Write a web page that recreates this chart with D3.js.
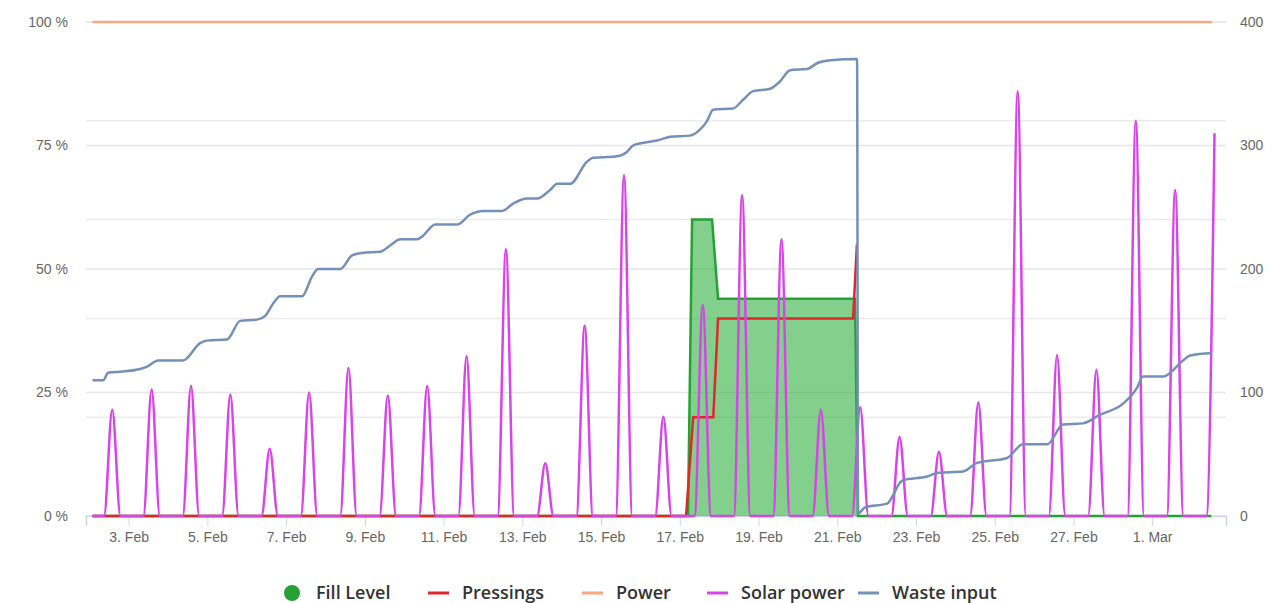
<!DOCTYPE html>
<html>
<head>
<meta charset="utf-8">
<script src="https://cdn.jsdelivr.net/npm/d3@7/dist/d3.min.js"></script>
<style>
    body { margin: 0; background: #fff; }
    svg { display: block; font-family: "Open Sans", "DejaVu Sans", sans-serif; }
</style>
</head>
<body>
<div id="chart"></div>
<script>
var parseTime = d3.timeParse("%Y-%m-%d %H:%M");
var parseDay = d3.timeParse("%Y-%m-%d");

// time window shown on the x axis
var xStart = "2019-02-01 22:00",
    xEnd = "2019-03-02 21:00";

var xTicks = ["2019-02-03", "2019-02-05", "2019-02-07", "2019-02-09", "2019-02-11",
    "2019-02-13", "2019-02-15", "2019-02-17", "2019-02-19", "2019-02-21",
    "2019-02-23", "2019-02-25", "2019-02-27", "2019-03-01"];
var leftTicks = [0, 25, 50, 75, 100];     // percent axis
var rightTicks = [0, 100, 200, 300, 400]; // waste input axis
var hiddenTicks = [0, 20, 40, 60, 80, 100]; // second percent axis (grid only)

// Fill Level (%)
var fillLevel = [
    ["2019-02-02 02:00", 0], ["2019-02-17 05:00", 0], ["2019-02-17 07:30", 60],
    ["2019-02-17 19:40", 60], ["2019-02-17 23:20", 44], ["2019-02-21 10:50", 44],
    ["2019-02-21 12:40", 0], ["2019-03-02 12:00", 0]
];

// Pressings (%)
var pressings = [
    ["2019-02-02 02:00", 0], ["2019-02-17 03:50", 0], ["2019-02-17 08:10", 20],
    ["2019-02-17 20:25", 20], ["2019-02-17 23:20", 40], ["2019-02-21 09:40", 40],
    ["2019-02-21 12:00", 55]
];

// Power (%)
var power = [["2019-02-02 02:00", 100], ["2019-03-02 12:30", 100]];

// Solar power: one daily peak (%), Feb 2 .. Mar 2
var solarPeaks = [21.5, 25.6, 26.3, 24.6, 13.6, 25, 30, 24.4, 26.3, 32.4,
    54, 10.7, 38.5, 69, 20.1, 42.7, 65, 56, 21.5, 22,
    16, 13, 23, 86, 32.6, 29.6, 80, 66, 77.5];
var sunrise = "09:00", solarNoon = "14:00", sunset = "19:00";

// Waste input (right axis)
var wasteInput = [
    ["2019-02-02 02:00", 110], ["2019-02-02 08:30", 110], ["2019-02-02 11:30", 116],
    ["2019-02-02 20:40", 117], ["2019-02-03 07:00", 119], ["2019-02-03 11:15", 121],
    ["2019-02-03 18:00", 126], ["2019-02-04 09:10", 126], ["2019-02-04 19:35", 140],
    ["2019-02-04 23:50", 142], ["2019-02-05 12:00", 143], ["2019-02-05 20:00", 158],
    ["2019-02-06 06:20", 159], ["2019-02-06 11:15", 162], ["2019-02-06 16:05", 172],
    ["2019-02-06 20:20", 178], ["2019-02-07 09:45", 178], ["2019-02-07 15:50", 194],
    ["2019-02-07 19:30", 200], ["2019-02-08 09:00", 200], ["2019-02-08 16:15", 211],
    ["2019-02-08 22:20", 213], ["2019-02-09 09:20", 214], ["2019-02-09 15:25", 219],
    ["2019-02-09 21:30", 224], ["2019-02-10 07:50", 224], ["2019-02-10 11:30", 227],
    ["2019-02-10 18:50", 236], ["2019-02-11 08:15", 236], ["2019-02-11 16:10", 244],
    ["2019-02-12 00:05", 247], ["2019-02-12 11:40", 247], ["2019-02-12 18:25", 253],
    ["2019-02-13 02:55", 257], ["2019-02-13 09:00", 257], ["2019-02-13 16:55", 264],
    ["2019-02-13 21:15", 269], ["2019-02-14 05:10", 269], ["2019-02-14 15:30", 287],
    ["2019-02-14 19:10", 290], ["2019-02-15 08:35", 291], ["2019-02-15 15:55", 295],
    ["2019-02-15 19:30", 300], ["2019-02-16 01:00", 302], ["2019-02-16 10:10", 304],
    ["2019-02-16 18:05", 307], ["2019-02-17 06:15", 308], ["2019-02-17 12:25", 313],
    ["2019-02-17 16:40", 320], ["2019-02-17 20:20", 329], ["2019-02-18 08:30", 330],
    ["2019-02-18 14:35", 337], ["2019-02-18 20:45", 344], ["2019-02-19 07:05", 346],
    ["2019-02-19 13:10", 352], ["2019-02-19 19:15", 361], ["2019-02-20 05:35", 362],
    ["2019-02-20 12:20", 367], ["2019-02-20 19:40", 369], ["2019-02-21 12:05", 370],
    ["2019-02-21 12:40", 2], ["2019-02-21 17:00", 7], ["2019-02-22 06:20", 10],
    ["2019-02-22 14:20", 27], ["2019-02-22 16:00", 29], ["2019-02-23 06:45", 32],
    ["2019-02-23 13:30", 35], ["2019-02-24 04:40", 36], ["2019-02-24 13:15", 43],
    ["2019-02-25 07:30", 47], ["2019-02-25 17:15", 58], ["2019-02-26 07:55", 58],
    ["2019-02-26 17:40", 74], ["2019-02-27 05:55", 75], ["2019-02-27 16:15", 82],
    ["2019-02-28 06:15", 91], ["2019-02-28 14:50", 104], ["2019-02-28 18:25", 113],
    ["2019-03-01 06:40", 113], ["2019-03-01 18:50", 126], ["2019-03-01 23:05", 130],
    ["2019-03-02 12:30", 132]
];

var seriesNames = ["Fill Level", "Pressings", "Power", "Solar power", "Waste input"];
var seriesColors = ["#25a233", "#e0262a", "#f5a97c", "#d843ea", "#7590b8"];

// chart geometry
var width = 1283, height = 603;
var plot = { left: 86, right: 1226, top: 22, bottom: 516 };

var svg = d3.select("#chart").append("svg")
    .attr("width", width)
    .attr("height", height);

var x = d3.scaleTime()
    .domain([parseTime(xStart), parseTime(xEnd)])
    .range([plot.left, plot.right]);
var yL = d3.scaleLinear().domain([0, 100]).range([plot.bottom, plot.top]);
var yR = d3.scaleLinear().domain([0, 400]).range([plot.bottom, plot.top]);

function toPoints(arr) {
    return arr.map(function(d) { return [parseTime(d[0]), d[1]]; });
}

// build solar curve from daily peaks
var solarData = [[parseTime("2019-02-02 02:00"), 0]];
var solarDays = d3.timeDay.range(parseDay("2019-02-02"), parseDay("2019-03-03"));
var fmtDay = d3.timeFormat("%Y-%m-%d");
solarDays.forEach(function(day, i) {
    var s = fmtDay(day);
    solarData.push([parseTime(s + " " + sunrise), 0]);
    solarData.push([parseTime(s + " " + solarNoon), solarPeaks[i]]);
    if (i < solarDays.length - 1) solarData.push([parseTime(s + " " + sunset), 0]);
});

// gridlines: percent axis and hidden second axis
var grid = svg.append("g");
var hiddenScale = d3.scaleLinear().domain([0, 100]).range([plot.bottom, plot.top]);
grid.selectAll("line.h").data(hiddenTicks).enter().append("line")
    .attr("x1", plot.left).attr("x2", plot.right)
    .attr("y1", function(d) { return hiddenScale(d); })
    .attr("y2", function(d) { return hiddenScale(d); })
    .attr("stroke", "#ececec").attr("stroke-width", 1.5);
grid.selectAll("line.q").data(leftTicks).enter().append("line")
    .attr("x1", plot.left).attr("x2", plot.right)
    .attr("y1", function(d) { return yL(d); })
    .attr("y2", function(d) { return yL(d); })
    .attr("stroke", "#e6e6e6").attr("stroke-width", 1.5);

// x axis
var xAxis = d3.axisBottom(x)
    .tickValues(xTicks.map(parseDay))
    .tickFormat(d3.timeFormat("%-d. %b"))
    .tickSize(10)
    .tickPadding(6);
var gx = svg.append("g")
    .attr("transform", "translate(0," + plot.bottom + ")")
    .call(xAxis);
gx.select(".domain").attr("stroke", "#ccd6eb").attr("stroke-width", 1.5);
gx.selectAll(".tick line").attr("stroke", "#ccd6eb");
gx.selectAll(".tick text").attr("fill", "#666").style("font-size", "14px");

// left and right axes (labels only)
var gl = svg.append("g")
    .attr("transform", "translate(" + 68 + ",0)")
    .call(d3.axisLeft(yL).tickValues(leftTicks).tickSize(0).tickPadding(0)
        .tickFormat(function(d) { return d + " %"; }));
var gr = svg.append("g")
    .attr("transform", "translate(" + 1240 + ",0)")
    .call(d3.axisRight(yR).tickValues(rightTicks).tickSize(0).tickPadding(0));
[gl, gr].forEach(function(g) {
    g.select(".domain").remove();
    g.selectAll(".tick text").attr("fill", "#666").style("font-size", "14px");
});

var lineL = d3.line()
    .x(function(d) { return x(d[0]); })
    .y(function(d) { return yL(d[1]); });
var lineR = d3.line()
    .x(function(d) { return x(d[0]); })
    .y(function(d) { return yR(d[1]); });
var areaL = d3.area()
    .x(function(d) { return x(d[0]); })
    .y0(yL(0))
    .y1(function(d) { return yL(d[1]); });

// Fill Level
svg.append("path")
    .attr("d", areaL(toPoints(fillLevel)))
    .attr("fill", "#30b040").attr("fill-opacity", 0.6);
svg.append("path")
    .attr("d", lineL(toPoints(fillLevel)))
    .attr("fill", "none").attr("stroke", seriesColors[0]).attr("stroke-width", 2.5);

// Pressings
svg.append("path")
    .attr("d", lineL(toPoints(pressings)))
    .attr("fill", "none").attr("stroke", seriesColors[1]).attr("stroke-width", 2.5);

// Power
svg.append("path")
    .attr("d", lineL(toPoints(power)))
    .attr("fill", "none").attr("stroke", seriesColors[2]).attr("stroke-width", 2.5);

// Solar power
svg.append("path")
    .attr("d", lineL.curve(d3.curveMonotoneX)(solarData))
    .attr("fill", "none").attr("stroke", seriesColors[3]).attr("stroke-width", 2.5);
lineL.curve(d3.curveLinear);

// Waste input
svg.append("path")
    .attr("d", lineR.curve(d3.curveMonotoneX)(toPoints(wasteInput)))
    .attr("fill", "none").attr("stroke", seriesColors[4]).attr("stroke-width", 2.5);

// legend, items placed where the reference puts them
var legendX = [282, 428, 582, 707, 858];
var legend = svg.append("g").attr("transform", "translate(0,593)");
legend.selectAll("g").data(seriesNames).enter().append("g")
    .attr("transform", function(d, i) { return "translate(" + legendX[i] + ",0)"; })
    .each(function(name, i) {
        var g = d3.select(this);
        if (i === 0) {
            g.append("circle").attr("cx", 10).attr("cy", 0).attr("r", 8)
                .attr("fill", seriesColors[i]);
        } else {
            g.append("line").attr("x1", 0).attr("x2", 21).attr("y1", 0).attr("y2", 0)
                .attr("stroke", seriesColors[i]).attr("stroke-width", 3);
        }
        g.append("text").attr("x", 34).attr("y", 0).attr("dy", "0.35em")
            .attr("fill", "#333").style("font-size", "18px").style("font-weight", 600)
            .text(name);
    });
</script>
</body>
</html>
